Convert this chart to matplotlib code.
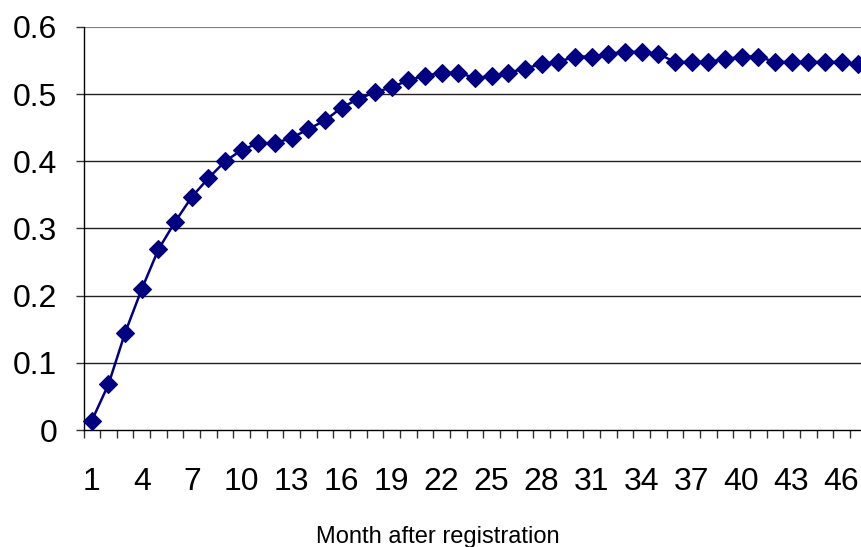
import numpy as np
import matplotlib
matplotlib.use("Agg")
import matplotlib.pyplot as plt
from matplotlib.ticker import FixedLocator, NullFormatter

plt.rcParams['font.family'] = ['Liberation Sans', 'DejaVu Sans']

# share of users, by month after registration
months = np.arange(1, 48)
values = [0.014, 0.068, 0.145, 0.210, 0.269, 0.310, 0.347, 0.375, 0.400, 0.417,
          0.427, 0.427, 0.435, 0.448, 0.461, 0.480, 0.493, 0.503, 0.510, 0.521,
          0.527, 0.532, 0.532, 0.524, 0.527, 0.532, 0.538, 0.545, 0.548, 0.556,
          0.556, 0.560, 0.563, 0.563, 0.560, 0.548, 0.548, 0.548, 0.552, 0.556,
          0.556, 0.548, 0.548, 0.548, 0.548, 0.548, 0.545]
y_ticks = [0, 0.1, 0.2, 0.3, 0.4, 0.5, 0.6]
x_labels = list(range(1, 47, 3))

W, H = 861, 547
fig = plt.figure(figsize=(W / 100, H / 100), dpi=100)
ax = fig.add_axes([83.5 / W, 1 - 430 / H, 1 - 83.5 / W, (430 - 27) / H])

ax.plot(months, values, color='#000080', lw=1.8, marker='D', ms=9.4,
        mfc='#000080', mec='#000080', mew=0.8, clip_on=False, zorder=3)

ax.set_xlim(0.5, 47.17)
ax.set_ylim(0, 0.6)

# gridlines
for v in y_ticks[1:]:
    ax.axhline(v, color='#808080' if v == 0.6 else '#222222', lw=1.0 if v < 0.6 else 1.6, zorder=1)

for s in ['top', 'right']:
    ax.spines[s].set_visible(False)
for s in ['left', 'bottom']:
    ax.spines[s].set_color('black')
    ax.spines[s].set_linewidth(1.0)

ax.set_yticks(y_ticks)
ax.set_yticklabels(['0' if v == 0 else f'{v:.1f}' for v in y_ticks])
ax.tick_params(axis='y', direction='out', length=6, width=1, color='#333333',
               labelsize=23, pad=13)

# category boundaries as ticks, labels every third month
ax.xaxis.set_major_locator(FixedLocator(np.arange(0.5, 48, 1)))
ax.xaxis.set_major_formatter(NullFormatter())
ax.xaxis.set_minor_locator(FixedLocator(x_labels))
ax.set_xticklabels([str(m) for m in x_labels], minor=True)
ax.tick_params(axis='x', which='major', direction='out', length=6, width=1, color='#333333')
ax.tick_params(axis='x', which='minor', length=0, labelsize=23, pad=27)

fig.text(437.5 / W, 1 - 543 / H, 'Month after registration',
         fontsize=17, ha='center', va='baseline')

fig.savefig('out.png', dpi=100)
